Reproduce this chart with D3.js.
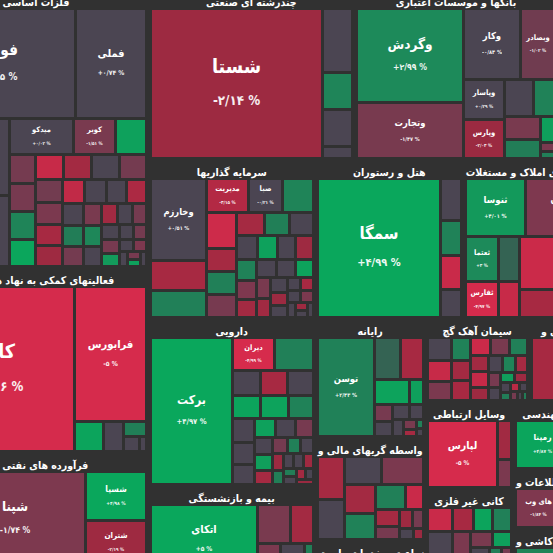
<!DOCTYPE html>
<meta charset="utf-8">
<head>
  <style>
    body { margin: 0; background: #313131; }
    svg { display: block; }
    text { font-family: "DejaVu Sans Condensed", "DejaVu Sans", sans-serif; font-stretch: condensed; fill: #fff; }
  </style>
</head>
<body>
  <div class="chart"></div>
  <script src="https://d3js.org/d3.v7.min.js"></script>
  <script>
    // بخش ها و ارزش بازار (واحد دلخواه)
    const sectorNames = [
      "فلزات اساسی", "فعالیتهای کمکی به نهاد های مالی", "استخراج کانه های فلزی", "فرآورده های نفتی", "محصولات شیمیایی",
      "چندرشته ای صنعتی", "بانکها و موسسات اعتباری", "خودرو و ساخت قطعات",
      "سرمایه گذاریها", "هتل و رستوران", "انبوه سازی املاک و مستغلات",
      "دارویی", "بیمه و بازنشستگی",
      "رایانه", "واسطه گریهای مالی و", "زراعت و خدمات وابسته",
      "سیمان آهک گچ", "انبارداری و", "وسایل ارتباطی", "کانی غیر فلزی",
      "فنی و مهندسی", "فناوری اطلاعات و", "محصولات کاشی و"
    ];
    const sectorValues = [
      61076, 40718, 2072, 22848, 2114,
      34170, 33668, 7621,
      26070, 23226, 21883,
      27225, 14603,
      12753, 11118, 3761,
      8446, 6027, 7482, 7439,
      5997, 5191, 4162
    ];

    // نمادها: [نام، ارزش، درصد تغییر]
    const metals = [
      ["فولاد", 15800, 0.5], ["فملی", 7500, 0.74], ["", 6200, -0.3], ["", 5680, -0.6],
      ["میدکو", 2230, 0.02], ["کویر", 1440, -1.51], ["", 1080, 4.6],
      ["", 700, -1.3], ["", 690, -1.4], ["", 680, 2.6], ["", 670, 4.9], ["", 660, -4.2], ["", 650, -2.4],
      ["", 640, -0.5], ["", 620, -1.2], ["", 600, -1.1], ["", 580, -1.6], ["", 560, -2.6], ["", 540, -2.2],
      ["", 520, -3.9], ["", 500, 0.2], ["", 480, -0.3], ["", 460, -2.8], ["", 440, 0.1], ["", 420, 2.2],
      ["", 400, -1.2], ["", 380, -1.5], ["", 360, 2.8], ["", 340, 0.4], ["", 320, -2.3], ["", 300, -0.2],
      ["", 280, -1.3], ["", 260, 0.3], ["", 240, -1.4], ["", 220, 4.1], ["", 200, 0], ["", 180, -1.2],
      ["", 160, 0.5], ["", 140, -1.8], ["", 120, 0.2], ["", 100, -1.4], ["", 90, 4.6], ["", 80, -0.3]
    ];
    const finance = [
      ["کالا", 24436, -4.96], ["فرابورس", 9576, -5], ["", 868, 4.8], ["", 589, -0.2],
      ["", 345, 2.3], ["", 240, -0.4], ["", 105, 0.1]
    ];
    const oil = [["شپنا", 12788, -1.74], ["شسپا", 2880, 4.98], ["شتران", 2640, -2.19]];
    const multi = [["شستا", 25670, -2.14], ["", 1920, -0.4], ["", 1110, 2.7], ["", 1110, -0.3], ["", 360, -0.2]];
    const banks = [
      ["وگردش", 9579, 2.99], ["وتجارت", 5665, -1.47], ["وکار", 3808, -0.84], ["وبصادر", 2380, -1.02],
      ["وپاسار", 1560, 0.29], ["وپارس", 1482, -2.03], ["", 1008, -0.3], ["", 792, 2.5], ["", 792, -1.5],
      ["", 648, 2.2], ["", 364, 4.5], ["", 126, -1.6], ["", 98, 2.4]
    ];
    const invest = [
      ["وخارزم", 4536, 0.51], ["", 1624, -2.6], ["", 1512, 2.4], ["مدیریت", 1404, -3.15], ["صبا", 1152, -0.21],
      ["", 1044, 2.6], ["", 1054, -4.5], ["", 682, -2.5], ["", 682, 2.4], ["", 682, -1.4],
      ["", 600, -2.5], ["", 560, 2.3], ["", 520, -0.3], ["", 500, -0.4], ["", 460, 4.6], ["", 440, -0.2],
      ["", 420, -2.2], ["", 400, 2.5], ["", 380, -1.8], ["", 360, -2.4], ["", 340, -0.5], ["", 320, -0.3],
      ["", 300, 4.7], ["", 280, -1.5], ["", 260, -2.3], ["", 240, -0.1], ["", 220, -2.1], ["", 200, -0.4],
      ["", 180, -0.3], ["", 160, -2.6], ["", 150, -0.2], ["", 140, -1.7], ["", 120, -0.4], ["", 100, -2.2],
      ["", 90, -0.3], ["", 80, -0.2]
    ];
    const hotel = [["سمگا", 16819, 4.99], ["", 861, -0.3], ["", 714, 2.5], ["", 693, -4.3], ["", 567, -0.2]];
    const realEstate = [
      ["ثنوسا", 3363, 4.01], ["کرمان", 4304, -1.8], ["ثعتما", 1462, 3], ["ثفارس", 1190, -4.97],
      ["", 903, 1.6], ["", 735, -4.2], ["", 2500, -4.4], ["", 1300, -2.6], ["", 900, 4.4],
      ["", 700, -3.6], ["", 600, -2.2], ["", 505, -2.8]
    ];
    const pharma = [
      ["برکت", 12035, 4.97], ["دیران", 1365, -4.99], ["", 1225, 2.4],
      ["", 700, -0.4], ["", 680, -2.6], ["", 660, -0.3], ["", 640, 4.8], ["", 620, 4.7], ["", 560, 2.5],
      ["", 520, -0.2], ["", 480, -0.3], ["", 440, -0.2], ["", 400, 4.6], ["", 370, -0.4], ["", 340, -1.4],
      ["", 310, -0.3], ["", 280, 4.4], ["", 260, -2.5], ["", 240, -1.3], ["", 220, 2.4], ["", 200, -0.2],
      ["", 180, -2.1], ["", 160, 2.3], ["", 150, -0.3], ["", 140, -0.2], ["", 130, -2.2], ["", 120, 2.2],
      ["", 110, -0.3], ["", 100, -2.4], ["", 90, -0.1], ["", 80, -2.0]
    ];
    const insurance = [
      ["اتکای", 7600, 5], ["", 1300, -1.5], ["", 900, -2.4], ["", 700, -1.6], ["", 450, -0.3],
      ["", 300, -2.2], ["", 180, 2.3], ["", 100, -0.4]
    ];
    const computer = [
      ["توسن", 5432, 2.43], ["", 1025, 1.6], ["", 902, -2.6], ["", 858, 4.7], ["", 338, 4.5],
      ["", 300, -1.4], ["", 260, -0.3], ["", 240, -0.2], ["", 200, -0.4], ["", 180, -0.3],
      ["", 120, -1.5], ["", 80, -2.5], ["", 60, 2.4], ["", 50, -0.2]
    ];
    const broker = [
      ["", 1140, -2.5], ["", 1064, -0.3], ["", 1000, -0.4], ["", 1110, -1.6], ["", 840, -2.4],
      ["", 756, 2.5], ["", 700, 2.4], ["", 420, -4.3], ["", 400, -2.5], ["", 300, -1.4],
      ["", 250, -2.2], ["", 200, -1.3], ["", 150, -0.4], ["", 100, -2.1]
    ];
    const farming = [["", 1000, 2.4], ["", 700, -1.5], ["", 557, -0.3]];
    const cement = [
      ["", 700, -0.3], ["", 650, -4.2], ["", 600, -1.6], ["", 560, 2.5], ["", 520, -2.4], ["", 500, -2.6],
      ["", 460, -4.4], ["", 440, -1.5], ["", 400, 2.4], ["", 380, -2.3], ["", 360, -4.1], ["", 320, -2.2],
      ["", 300, -0.4], ["", 280, 2.6], ["", 250, -2.5], ["", 220, -1.4], ["", 200, -0.3], ["", 180, 4.4],
      ["", 160, -2.1], ["", 140, -0.3], ["", 120, 2.2], ["", 100, -3.5], ["", 90, -0.2], ["", 80, -1.3],
      ["", 70, -0.4], ["", 60, 2.1]
    ];
    const transport = [["", 2700, -2.6], ["", 1609, -1.5]];
    const telecom = [["لپارس", 4620, -5], ["", 500, -2.3], ["", 358, -1.6]];
    const minerals = [
      ["", 700, -4.3], ["", 650, -0.3], ["", 600, 2.5], ["", 560, -2.6], ["", 540, 4.8], ["", 500, 2.4],
      ["", 460, -1.6], ["", 420, -2.4], ["", 380, -1.5], ["", 340, 4.5], ["", 300, -0.2], ["", 260, -2.3],
      ["", 220, 2.2], ["", 180, -1.4], ["", 150, -0.3], ["", 120, -2.1]
    ];
    const engineering = [["رمپنا", 2550, 4.87], ["", 900, -2.2], ["", 568, -1.5]];
    const itServices = [["های وب", 1763, -1.84], ["", 900, -0.3], ["", 586, 2.2]];
    const tiles = [["", 1400, 2.6], ["", 900, -2.3], ["", 564, -0.4]];

    const stocksBySector = {
      "فلزات اساسی": metals, "فعالیتهای کمکی به نهاد های مالی": finance, "فرآورده های نفتی": oil,
      "چندرشته ای صنعتی": multi, "بانکها و موسسات اعتباری": banks, "سرمایه گذاریها": invest,
      "هتل و رستوران": hotel, "انبوه سازی املاک و مستغلات": realEstate, "دارویی": pharma,
      "بیمه و بازنشستگی": insurance, "رایانه": computer, "واسطه گریهای مالی و": broker,
      "زراعت و خدمات وابسته": farming, "سیمان آهک گچ": cement, "انبارداری و": transport,
      "وسایل ارتباطی": telecom, "کانی غیر فلزی": minerals, "فنی و مهندسی": engineering,
      "فناوری اطلاعات و": itServices, "محصولات کاشی و": tiles
    };

    // چیدمان نوارها: h = کنار هم، v = زیر هم
    const arrangement = { dir: "h", children: [
      { dir: "v", children: [sectorNames[0], sectorNames[1], { dir: "v", children: [
        { dir: "h", children: [sectorNames[2], sectorNames[3]] }, sectorNames[4]] }] },
      { dir: "v", children: [
        { dir: "h", children: [sectorNames[5], sectorNames[6], sectorNames[7]] },
        { dir: "h", children: [sectorNames[8], sectorNames[9], sectorNames[10]] },
        { dir: "h", children: [
          { dir: "v", children: [sectorNames[11], sectorNames[12]] },
          { dir: "v", children: [sectorNames[13], sectorNames[14], sectorNames[15]] },
          { dir: "v", children: [
            { dir: "h", children: [sectorNames[16], sectorNames[17]] },
            { dir: "h", children: [
              { dir: "v", children: [sectorNames[18], sectorNames[19]] },
              { dir: "v", children: [sectorNames[20], sectorNames[21], sectorNames[22]] }] }] }] }] }
    ] };

    const changeDomain = [-5, -3, -2, -1.9, -1, -0.9, 0.9, 1, 1.9, 2, 3, 5];
    const changeColors = ["#d62b4c", "#b02943", "#9a2a41", "#80384f", "#703c50", "#4b4552",
      "#4b4552", "#3f5652", "#2f6954", "#237a56", "#1d8a5a", "#0aa75c"];

    var width = 553, height = 553;
    var ox = -73, oy = -6, fullW = 673, fullH = 579;
    var headerH = 16;

    var color = d3.scaleLinear().domain(changeDomain).range(changeColors).clamp(true);
    var fmt = d3.format(".2~f");
    var faDigits = "۰۱۲۳۴۵۶۷۸۹";
    function toFa(s) { return s.replace(/[0-9]/g, function (d) { return faDigits[+d]; }).replace(".", "/"); }
    function changeText(c) { return (c > 0 ? "+" : c < 0 ? "-" : "") + toFa(fmt(Math.abs(c))) + " %"; }

    function build(node) {
      if (typeof node === "string") return { name: node, value: sectorValues[sectorNames.indexOf(node)] };
      return { dir: node.dir, children: node.children.map(build) };
    }

    var root = d3.hierarchy(build(arrangement)).sum(function (d) { return d.children ? 0 : d.value; });
    d3.treemap()
      .size([fullW, fullH])
      .paddingInner(7)
      .tile(function (node, x0, y0, x1, y1) {
        (node.data.dir === "h" ? d3.treemapDice : d3.treemapSlice)(node, x0, y0, x1, y1);
      })(root);

    var svg = d3.select(".chart").append("svg")
      .attr("width", width)
      .attr("height", height);
    svg.append("rect").attr("width", width).attr("height", height).attr("fill", "#313131");

    var chart = svg.append("g").attr("transform", "translate(" + ox + "," + oy + ")");
    var labelLayer = svg.append("g").attr("transform", "translate(" + ox + "," + oy + ")");

    root.leaves().forEach(function (s) {
      var stocks = stocksBySector[s.data.name];
      if (!stocks) return;
      var sw = s.x1 - s.x0, sh = s.y1 - s.y0;

      // سرتیتر بخش
      labelLayer.append("text")
        .attr("x", (s.x0 + s.x1) / 2)
        .attr("y", s.y0 + 8)
        .attr("text-anchor", "middle")
        .attr("dominant-baseline", "central")
        .attr("direction", "rtl")
        .style("font-size", "10.5px")
        .style("font-weight", "bold")
        .text(s.data.name);

      var sub = d3.hierarchy({ children: stocks.map(function (d) { return { name: d[0], value: d[1], change: d[2] }; }) })
        .sum(function (d) { return d.value || 0; });
      d3.treemap()
        .size([sw, sh - headerH])
        .paddingInner(3)
        .tile(d3.treemapSquarify.ratio(1))(sub);

      var bx = s.x0, by = s.y0 + headerH;
      sub.leaves().forEach(function (t) {
        var x = Math.round(bx + t.x0), y = Math.round(by + t.y0);
        var w = Math.round(bx + t.x1) - x, h = Math.round(by + t.y1) - y;
        chart.append("rect")
          .attr("x", x).attr("y", y)
          .attr("width", Math.max(0, w)).attr("height", Math.max(0, h))
          .attr("fill", color(t.data.change));

        if (!t.data.name || w < 26 || h < 24) return;
        var fs = Math.max(7.5, Math.min(20, 3.5 + 0.11 * Math.min(w, h)));
        var cs = Math.max(4.6, fs * 0.75 - 1.5);
        var gap = fs * 1.75;
        var cx = x + w / 2, cy = y + h / 2;
        labelLayer.append("text")
          .attr("x", cx).attr("y", cy - gap / 2)
          .attr("text-anchor", "middle")
          .attr("dominant-baseline", "central")
          .style("font-size", fs + "px")
          .style("font-weight", "bold")
          .text(t.data.name);
        labelLayer.append("text")
          .attr("x", cx).attr("y", cy + gap / 2)
          .attr("text-anchor", "middle")
          .attr("dominant-baseline", "central")
          .attr("direction", "ltr")
          .style("font-size", cs + "px")
          .style("font-weight", "bold")
          .style("opacity", 0.92)
          .text(changeText(t.data.change));
      });
    });
  </script>
</body>
